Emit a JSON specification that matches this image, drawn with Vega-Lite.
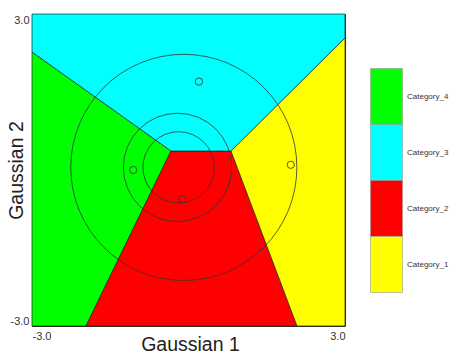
{
  "$schema": "https://vega.github.io/schema/vega-lite/v6.json",
  "autosize": {"type": "none"},
  "padding": {"left": 32, "top": 14, "right": 113, "bottom": 27},
  "width": 313,
  "height": 312,
  "background": "white",
  "config": {
    "font": "Liberation Sans",
    "view": {"stroke": "#333333", "strokeWidth": 1},
    "axis": {
      "grid": false,
      "ticks": false,
      "domain": false,
      "labelFont": "Liberation Sans",
      "labelFontSize": 11,
      "labelColor": "#333333",
      "labelFlush": true,
      "labelExpr": "replace(datum.label, '\u2212', '-')",
      "titleFont": "Liberation Sans",
      "titleFontSize": 19.5,
      "titleFontWeight": "normal",
      "titleColor": "#222222"
    },
    "legend": {
      "orient": "none",
      "legendX": 338,
      "legendY": 66,
      "padding": 0,
      "rowPadding": -3,
      "symbolType": "M-1,-1.75H1V1.75H-1Z",
      "symbolSize": 1024,
      "symbolStrokeColor": "#999999",
      "symbolStrokeWidth": 0.6,
      "symbolOpacity": 1,
      "labelFont": "Liberation Sans",
      "labelFontSize": 8,
      "labelColor": "#333333",
      "labelOffset": 4
    }
  },
  "datasets": {
    "regionsH": [
      {"cat": "Category_4", "y": -3, "x": -3, "x2": -1.965},
      {"cat": "Category_4", "y": 0.365, "x": -3, "x2": -0.335},
      {"cat": "Category_4", "y": 2.27, "x": -3, "x2": -3},
      {"cat": "Category_2", "y": -3, "x": -1.965, "x2": 2.08},
      {"cat": "Category_2", "y": 0.365, "x": -0.335, "x2": 0.815},
      {"cat": "Category_1", "y": -3, "x": 2.08, "x2": 3},
      {"cat": "Category_1", "y": 0.365, "x": 0.815, "x2": 3},
      {"cat": "Category_1", "y": 2.54, "x": 3, "x2": 3}
    ],
    "regionV": [
      {"cat": "Category_3", "x": -3, "y": 2.27, "y2": 3},
      {"cat": "Category_3", "x": -0.335, "y": 0.365, "y2": 3},
      {"cat": "Category_3", "x": 0.815, "y": 0.365, "y2": 3},
      {"cat": "Category_3", "x": 3, "y": 2.54, "y2": 3}
    ],
    "contours": [
      {"x": -0.09, "y": 0.05, "r": 2.17},
      {"x": -0.21, "y": 0.05, "r": 1.04},
      {"x": -0.19, "y": 0.05, "r": 0.685}
    ],
    "samples": [
      {"x": 0.2, "y": 1.7},
      {"x": -1.06, "y": 0.0},
      {"x": -0.12, "y": -0.56},
      {"x": 1.96, "y": 0.1}
    ]
  },
  "layer": [
    {
      "data": {"name": "regionsH"},
      "mark": {"type": "area", "orient": "horizontal", "opacity": 1, "stroke": "#222222", "strokeWidth": 0.7},
      "encoding": {
        "y": {
          "field": "y", "type": "quantitative",
          "scale": {"domain": [-3, 3], "nice": false, "zero": false},
          "axis": {"values": [-3, 3], "format": ".1f", "title": "Gaussian 2", "labelPadding": 3,
                   "titleX": -10, "titleY": 156, "titleBaseline": "alphabetic", "titleAngle": -90}
        },
        "x": {
          "field": "x", "type": "quantitative",
          "scale": {"domain": [-3, 3], "nice": false, "zero": false},
          "axis": {"values": [-3, 3], "format": ".1f", "title": "Gaussian 1", "labelPadding": 4,
                   "titleX": 158, "titleY": 24, "titleBaseline": "alphabetic"}
        },
        "x2": {"field": "x2"},
        "color": {
          "field": "cat", "type": "nominal", "title": null,
          "scale": {
            "domain": ["Category_4", "Category_3", "Category_2", "Category_1"],
            "range": ["#00ff00", "#00ffff", "#ff0000", "#ffff00"]
          }
        }
      }
    },
    {
      "data": {"name": "regionV"},
      "mark": {"type": "area", "orient": "vertical", "opacity": 1, "stroke": "#222222", "strokeWidth": 0.7},
      "encoding": {
        "x": {"field": "x", "type": "quantitative"},
        "y": {"field": "y", "type": "quantitative"},
        "y2": {"field": "y2"},
        "color": {"field": "cat", "type": "nominal"}
      }
    },
    {
      "data": {"name": "contours"},
      "mark": {"type": "point", "shape": "circle", "filled": false, "stroke": "#333333", "strokeWidth": 0.8, "opacity": 1},
      "encoding": {
        "x": {"field": "x", "type": "quantitative"},
        "y": {"field": "y", "type": "quantitative"},
        "size": {
          "field": "r", "type": "quantitative", "legend": null,
          "scale": {"type": "pow", "exponent": 2, "domain": [0, 3], "range": [0, 97719]}
        }
      }
    },
    {
      "data": {"name": "samples"},
      "mark": {"type": "point", "shape": "circle", "filled": false, "size": 53, "stroke": "#333333", "strokeWidth": 0.8, "opacity": 1},
      "encoding": {
        "x": {"field": "x", "type": "quantitative"},
        "y": {"field": "y", "type": "quantitative"}
      }
    }
  ]
}
